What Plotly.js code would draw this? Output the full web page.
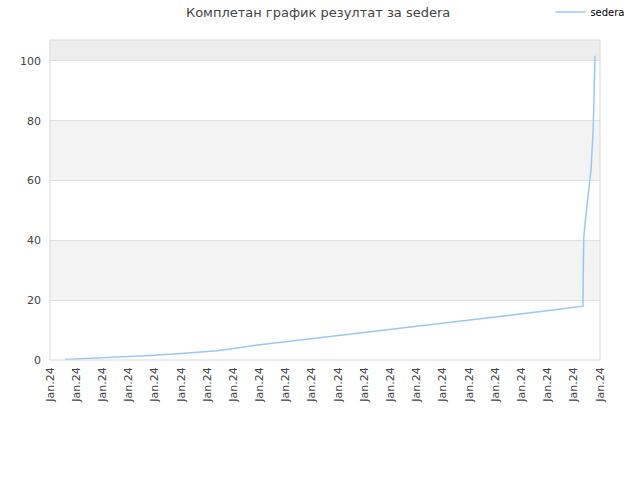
<!DOCTYPE html>
<html>
<head>
<meta charset="utf-8">
<script src="https://cdn.plot.ly/plotly-3.0.1.min.js"></script>
<style>html,body{margin:0;padding:0;background:#fff;}#chart{width:640px;height:480px;}</style>
</head>
<body>
<div id="chart"></div>
<script>
// x positions expressed in tick-index units (each tick labelled "Jan.24")
var xPos = [0.57, 1.2, 1.91, 2.9, 3.82, 5.0, 6.38, 7.2, 8.09, 9.8, 11.45, 13.2, 14.89, 16.4, 17.95, 19.2, 20.35, 20.36, 20.38, 20.43, 20.50, 20.58, 20.66, 20.74, 20.77, 20.81];
var results = [0.2, 0.45, 0.75, 1.1, 1.5, 2.2, 3.1, 4.1, 5.2, 6.9, 8.6, 10.3, 12.0, 13.7, 15.4, 16.7, 18.0, 29.0, 41.0, 45.7, 52.0, 57.7, 64.0, 77.0, 93.0, 101.7];
var tickIdx = [0,1,2,3,4,5,6,7,8,9,10,11,12,13,14,15,16,17,18,19,20,21];
var tickLabels = tickIdx.map(function(){return "Jan.24";});
var yTicks = [0, 20, 40, 60, 80, 100];
var seriesName = "sedera";
var chartTitle = "Комплетан график резултат за sedera";

var bands = [[20,40,'#f3f3f3'],[60,80,'#f3f3f3'],[100,107,'#eeeeee']];
var shapes = bands.map(function(b){
  return {type:'rect', xref:'paper', yref:'y', x0:0, x1:1, y0:b[0], y1:b[1], fillcolor:b[2], line:{width:0}, layer:'below'};
});
shapes.push({type:'rect', xref:'paper', yref:'paper', x0:0, x1:1, y0:0, y1:1, line:{color:'#d9d9d9', width:1}, fillcolor:'rgba(0,0,0,0)', layer:'above'});

var trace = {
  x: xPos, y: results, type:'scatter', mode:'lines', name: seriesName,
  line:{color:'#99c7f5', width:1.5}
};

var layout = {
  width:640, height:480,
  margin:{l:50, r:40, t:40, b:120},
  paper_bgcolor:'#ffffff', plot_bgcolor:'#ffffff',
  font:{family:'DejaVu Sans, sans-serif', size:11, color:'#444'},
  title:{text:chartTitle, x:0.497, xanchor:'center', xref:'container', y:0.975, yref:'container', yanchor:'middle', font:{family:'DejaVu Sans, sans-serif', size:13, color:'#444'}},
  showlegend:true,
  legend:{x:0.985, xref:'container', xanchor:'right', y:0.975, yref:'container', yanchor:'middle', orientation:'h', font:{size:10, color:'#000'}, bgcolor:'rgba(0,0,0,0)'},
  xaxis:{range:[0,21], tickmode:'array', tickvals:tickIdx, ticktext:tickLabels, tickangle:-90, showgrid:false, zeroline:false, showline:false, ticks:'', ticklabelstandoff:4, tickfont:{size:11, color:'#444'}, fixedrange:true, automargin:false},
  yaxis:{range:[0,107], tickmode:'array', tickvals:yTicks, showgrid:true, gridcolor:'#e0e0e0', gridwidth:1, zeroline:false, showline:false, ticks:'', ticklabelstandoff:8, tickfont:{size:11, color:'#444'}, fixedrange:true, automargin:false},
  shapes:shapes
};

Plotly.newPlot('chart', [trace], layout, {displayModeBar:false, staticPlot:true});
</script>
</body>
</html>
